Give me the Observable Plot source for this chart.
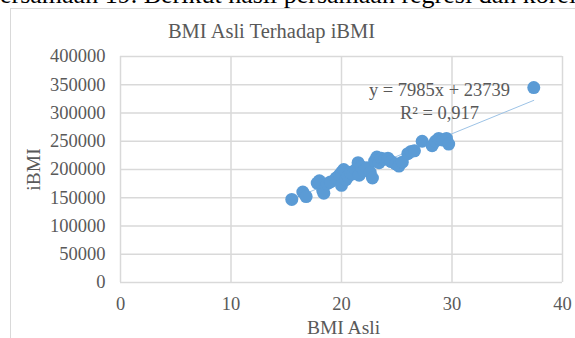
<!DOCTYPE html>
<html>
<head>
<meta charset="utf-8">
<script src="https://cdn.jsdelivr.net/npm/d3@7"></script>
<script src="https://cdn.jsdelivr.net/npm/@observablehq/plot@0.6"></script>
<style>
  html, body { margin: 0; padding: 0; background: #fff; width: 575px; height: 338px; overflow: hidden; }
  #wrap { position: relative; width: 575px; height: 338px; overflow: hidden; font-family: "Liberation Serif", "Times New Roman", serif; }
  #doc { position: absolute; left: -13px; top: -19px; font-size: 26px; line-height: 28px; white-space: nowrap; color: #000; }
  #box { position: absolute; left: 10px; top: 8px; width: 640px; height: 400px; border: 1.5px solid #d9d9d9; box-sizing: border-box; }
  #chart { position: absolute; left: 0; top: 0; }
</style>
</head>
<body>
<div id="wrap">
  <div id="doc">persamaan 19. Berikut hasil persamaan regresi dan korelasi</div>
  <div id="box"></div>
  <div id="chart"></div>
</div>
<script>
// Data
const bmiAsli = [15.5, 16.5, 16.8, 17.8, 18.0, 18.3, 18.4, 18.7, 19.0, 19.5, 19.8, 20.0, 20.0, 20.2, 20.4, 20.6, 20.8, 21.0, 21.3, 21.5, 21.6, 21.8, 22.0, 22.3, 22.6, 22.8, 23.0, 23.2, 23.4, 23.6, 23.9, 24.2, 24.5, 24.9, 25.2, 25.5, 26.0, 26.3, 26.6, 27.3, 28.2, 28.5, 28.8, 29.2, 29.5, 29.7, 37.4];
const iBMI = [147000, 160000, 152000, 176000, 180000, 163000, 158000, 175000, 178000, 185000, 190000, 172000, 195000, 200000, 182000, 188000, 195000, 192000, 200000, 212000, 190000, 205000, 198000, 203000, 195000, 185000, 215000, 222000, 212000, 220000, 218000, 220000, 214000, 210000, 206000, 213000, 228000, 232000, 233000, 250000, 242000, 250000, 255000, 252000, 255000, 245000, 345000];
const xTicks = [0, 10, 20, 30, 40];
const yTicks = [0, 50000, 100000, 150000, 200000, 250000, 300000, 350000, 400000];
const slope = [7985];
const intercept = [23739];
const equationLines = ["y = 7985x + 23739", "R² = 0,917"];
const title = "BMI Asli Terhadap iBMI";
const xLabel = "BMI Asli";
const yLabel = "iBMI";

const points = bmiAsli.map((x, i) => ({x, y: iBMI[i]}));
const xMin = d3.min(bmiAsli), xMax = d3.max(bmiAsli);
const trend = [xMin, xMax].map(x => ({x, y: slope[0] * x + intercept[0]}));

const grey = "#d9d9d9";
const textCol = "#595959";

const chart = Plot.plot({
  width: 575,
  height: 338,
  marginLeft: 120,
  marginRight: 13,
  marginTop: 56,
  marginBottom: 56,
  style: { fontFamily: "'Liberation Serif', 'Times New Roman', serif", background: "transparent", overflow: "visible" },
  x: { domain: [0, 40] },
  y: { domain: [0, 400000] },
  marks: [
    Plot.ruleX(xTicks, { stroke: grey, strokeWidth: 1.5 }),
    Plot.ruleY(yTicks, { stroke: grey, strokeWidth: 1.5 }),
    Plot.axisY(yTicks, { tickSize: 0, tickPadding: 15, fontSize: 18.5, fill: textCol, label: null, tickFormat: d => String(d) }),
    Plot.axisX(xTicks, { tickSize: 0, tickPadding: 14, fontSize: 18.5, fill: textCol, label: null, tickFormat: d => String(d) }),
    Plot.line(trend, { x: "x", y: "y", stroke: "#9dc3e6", strokeWidth: 1 }),
    Plot.dot(points, { x: "x", y: "y", r: 6.5, fill: "#5b9bd5", stroke: "none" }),
    Plot.text([equationLines[0]], { frameAnchor: "top-left", dx: 319, dy: 34, text: d => d, fontSize: 18.5, fill: textCol, textAnchor: "middle", lineAnchor: "middle" }),
    Plot.text([equationLines[1]], { frameAnchor: "top-left", dx: 319, dy: 57, text: d => d, fontSize: 18.5, fill: textCol, textAnchor: "middle", lineAnchor: "middle" }),
    Plot.text([title], { frameAnchor: "top-left", dx: 151, dy: -25, text: d => d, fontSize: 20.5, fill: textCol, textAnchor: "middle", lineAnchor: "middle" }),
    Plot.text([xLabel], { frameAnchor: "bottom-left", dx: 223, dy: 45, text: d => d, fontSize: 19.5, fill: textCol, textAnchor: "middle", lineAnchor: "middle" }),
    Plot.text([yLabel], { frameAnchor: "left", dx: -87, dy: 0, text: d => d, fontSize: 19.5, fill: textCol, textAnchor: "middle", lineAnchor: "middle", rotate: -90 })
  ]
});
document.getElementById("chart").appendChild(chart);
</script>
</body>
</html>
